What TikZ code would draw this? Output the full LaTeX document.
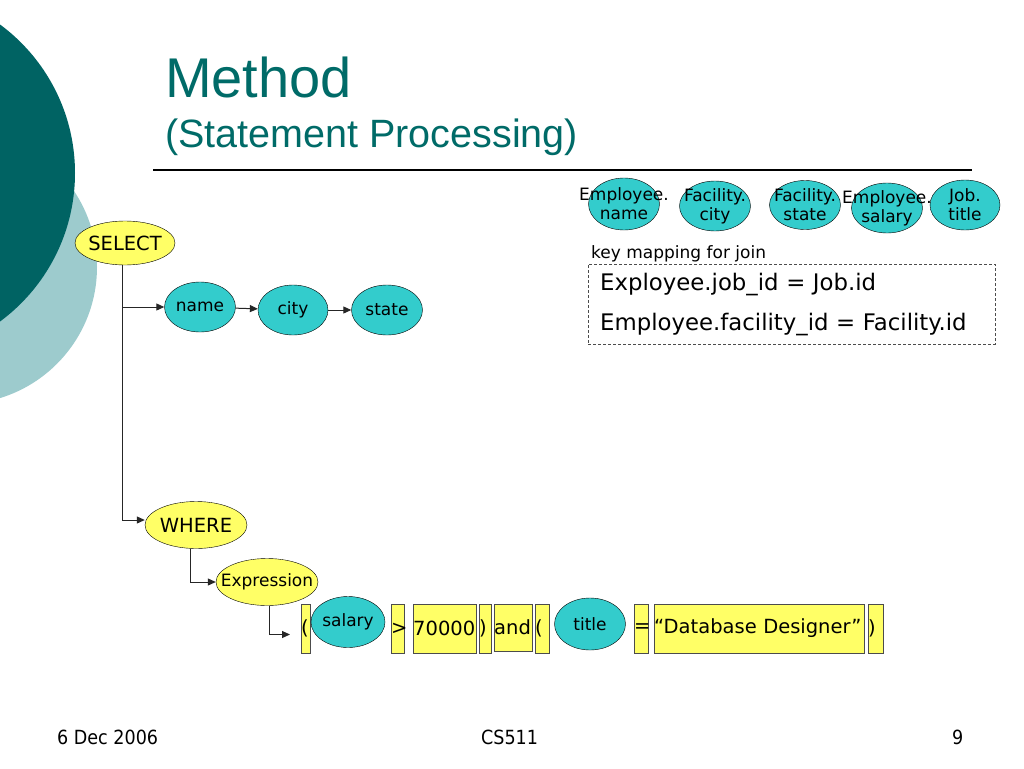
\documentclass[tikz,border=0pt]{standalone}
\usepackage{fontspec}
\setmainfont{DejaVu Sans}
\newfontfamily\headfont{Liberation Sans}
\newfontfamily\footfont{DejaVu Sans Condensed}
\usetikzlibrary{shapes.geometric,arrows.meta}
\definecolor{darkteal}{RGB}{0,99,99}
\definecolor{paleteal}{RGB}{157,203,205}
\definecolor{headteal}{RGB}{0,107,104}
\definecolor{opyellow}{RGB}{255,255,102}
\definecolor{keycyan}{RGB}{51,204,204}
\newcommand\opfont{\fontsize{19.5}{22}\selectfont}
\newcommand\colfont{\fontsize{17}{19}\selectfont}
\newcommand\keyfont{\fontsize{22.8}{40}\selectfont}
\tikzset{
  opnode/.style={ellipse, draw, fill=opyellow, inner sep=0pt},
  colnode/.style={ellipse, draw, fill=keycyan, inner sep=0pt},
  tokbox/.style={draw=black!70, fill=opyellow, inner sep=0pt, minimum height=49pt, anchor=west, align=left, font=\opfont},
  link/.style={draw=black!85, line width=1pt},
}
\begin{document}
\begin{tikzpicture}[x=1pt,y=-1pt,>={Triangle[length=8pt,width=7pt]}]
\useasboundingbox (0,0) rectangle (1024,768);
\clip (0,0) rectangle (1024,768);
\fill[white] (0,0) rectangle (1024,768);
\fill[paleteal] (-40,267) circle (137pt);
\fill[darkteal] (-109.5,173) circle (184.5pt);
\node[anchor=base west, inner sep=0pt, text=headteal, font=\headfont\fontsize{56}{60}\selectfont] (head) at (165,97) {Method};
\node[anchor=base west, inner sep=0pt, text=headteal, font=\headfont\fontsize{39.5}{44}\selectfont] (subhead) at (165,147) {(Statement Processing)};
\draw[line width=1.3pt] (153,170) -- (972,170);

\node[opnode, minimum width=100pt, minimum height=44pt, label={[font=\opfont]center:SELECT}] (select) at (125,243) {};
\node[colnode, minimum width=71pt, minimum height=50pt, label={[font=\colfont]center:name}] (name) at (200,307) {};
\node[colnode, minimum width=70pt, minimum height=50pt, label={[font=\colfont]center:city}] (city) at (293,310) {};
\node[colnode, minimum width=71pt, minimum height=50pt, label={[font=\colfont]center:state}] (state) at (387,310) {};
\node[opnode, minimum width=102pt, minimum height=47pt, label={[font=\opfont]center:WHERE}] (where) at (196,525) {};
\node[opnode, minimum width=102pt, minimum height=47pt, label={[font=\colfont]center:Expression}] (expr) at (267,582) {};

\node[colnode, minimum width=71pt, minimum height=52pt, label={[align=center,font=\colfont]center:Employee.\\name}] (empname) at (624,204) {};
\node[colnode, minimum width=71pt, minimum height=50pt, label={[align=center,font=\colfont]center:Facility.\\city}] (faccity) at (715,206) {};
\node[colnode, minimum width=71pt, minimum height=49pt, label={[align=center,font=\colfont]center:Facility.\\state}] (facstate) at (805,205) {};
\node[colnode, minimum width=71pt, minimum height=50pt, label={[align=center,font=\colfont]center:Employee.\\salary}] (empsalary) at (887,208) {};
\node[colnode, minimum width=70pt, minimum height=50pt, label={[align=center,font=\colfont]center:Job.\\title}] (jobtitle) at (965,205) {};

\node[anchor=west, inner sep=0pt, font=\colfont] (keycap) at (591,254) {key mapping for join};
\node[draw=black!70, dash pattern=on 3pt off 2pt, anchor=north west, inner xsep=12pt, inner ysep=0pt, text width=383pt, minimum height=80pt, align=left, font=\keyfont] (keymap) at (588,264) {Exployee.job\_id = Job.id\\Employee.facility\_id = Facility.id};

\node[tokbox, text width=9pt] (lpa) at (301,628.5) {(};
\node[colnode, minimum width=74pt, minimum height=51pt, label={[font=\colfont]center:salary}] (salary) at (348,622) {};
\node[tokbox, text width=13pt] (gt) at (391,628.5) {>};
\node[tokbox, text width=63pt] (num) at (413,628.5) {70000};
\node[tokbox, text width=12pt] (rpa) at (479,628.5) {)};
\node[tokbox, text width=38pt, minimum height=47pt] (andw) at (494,627.5) {and};
\node[tokbox, text width=14pt] (lpb) at (535,628.5) {(};
\node[colnode, minimum width=71pt, minimum height=52pt, label={[font=\colfont]center:title}] (title) at (590,624) {};
\node[tokbox, text width=14pt] (eq) at (634,628.5) {=};
\node[tokbox, text width=210pt] (str) at (654,628.5) {``Database Designer''};
\node[tokbox, text width=15pt] (rpb) at (868,628.5) {)};

\path[link,->] ([xshift=-3pt]select.south) |- (name.west);
\path[link,->] ([xshift=-3pt]select.south) |- ([yshift=5pt]where.west);
\path[link,->] (name) -- (city);
\path[link,->] (city) -- (state);
\path[link,->] ([xshift=-6pt]where.south) |- (expr.west);
\path[link,->,shorten >=11pt] ([xshift=2pt]expr.south) |- ([yshift=-6pt]lpa.west);

\node[anchor=base west, inner sep=0pt, font=\footfont\fontsize{19.5}{21}\selectfont] (date) at (57,744) {6 Dec 2006};
\node[anchor=base west, inner sep=0pt, font=\footfont\fontsize{19.5}{21}\selectfont] (course) at (481,744) {CS511};
\node[anchor=base west, inner sep=0pt, font=\footfont\fontsize{19.5}{21}\selectfont] (page) at (952,744) {9};
\end{tikzpicture}
\end{document}
